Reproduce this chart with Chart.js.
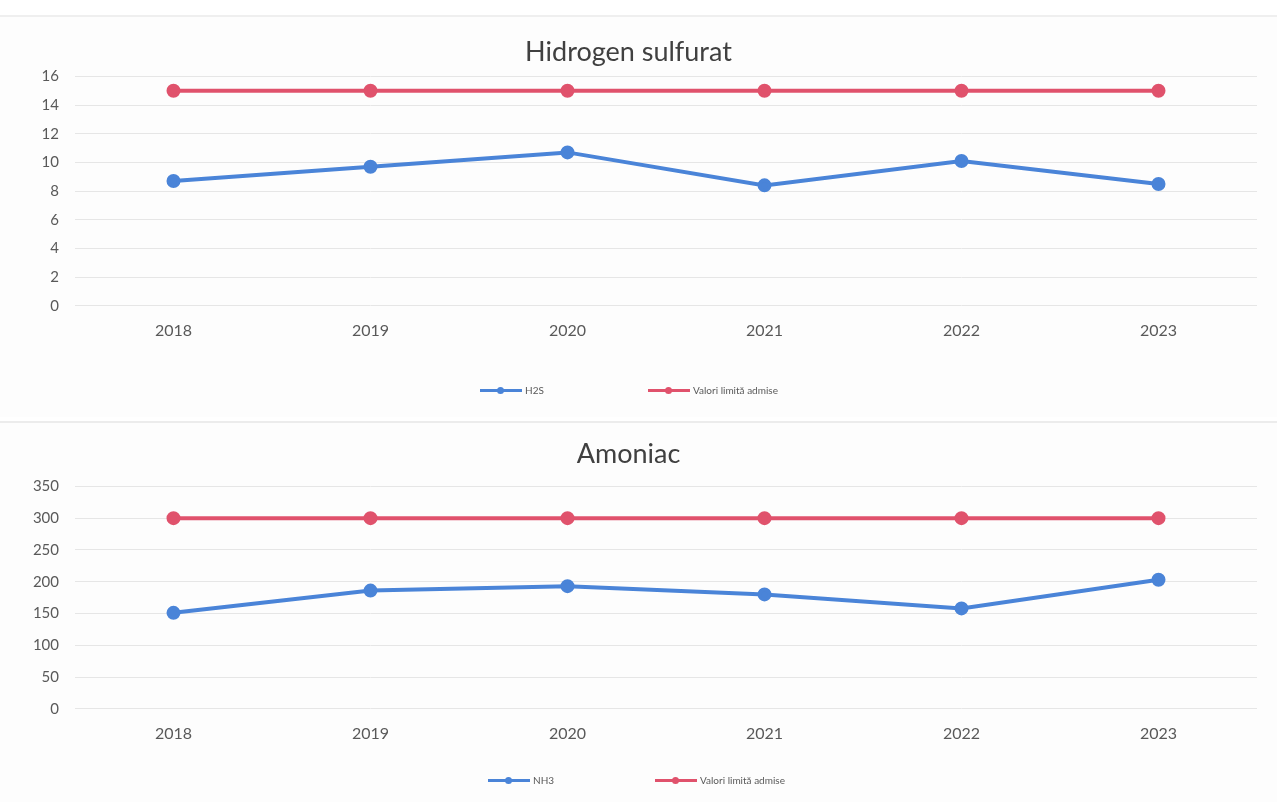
<!DOCTYPE html>
<html>
<head>
<meta charset="utf-8">
<script src="https://cdn.jsdelivr.net/npm/chart.js@4.4.0/dist/chart.umd.min.js"></script>
<style>
  body { margin: 0; background: #fff; width: 1277px; height: 803px; overflow: hidden; position: relative; font-family: Lato, "Open Sans", sans-serif; }
  .panel { position: absolute; left: 0; width: 1277px; background: #fdfdfd; }
  #p1 { top: 15px; height: 400px; border-top: 2px solid #efefef; }
  #p2 { top: 421px; height: 379px; border-top: 2px solid #ececec; }
  .legend { position: absolute; font-size: 10px; color: #595959; white-space: nowrap; }
  .item { position: absolute; top: 0; display: flex; align-items: center; height: 12px; }
  .swatch { position: relative; width: 42px; height: 3px; margin-right: 3px; }
  .swatch::after { content: ''; position: absolute; left: 17px; top: -2px; width: 7px; height: 7px; border-radius: 50%; background: inherit; }
</style>
</head>
<body>
<div class="panel" id="p1">
  <canvas id="c1" width="1277" height="400"></canvas>
  <div class="legend" id="l1" style="top: 367px; left: 0;"></div>
</div>
<div class="panel" id="p2">
  <canvas id="c2" width="1277" height="379"></canvas>
  <div class="legend" id="l2" style="top: 351px; left: 0;"></div>
</div>
<script>
const years = ['2018', '2019', '2020', '2021', '2022', '2023'];
const h2s = [8.7, 9.7, 10.7, 8.4, 10.1, 8.5];
const h2sLimit = [15, 15, 15, 15, 15, 15];
const nh3 = [151, 186, 193, 180, 158, 203];
const nh3Limit = [300, 300, 300, 300, 300, 300];

const BLUE = '#4a84d8';
const RED = '#e0526c';
const FONT = 'Lato, "Open Sans", sans-serif';

function series(label, data, color) {
  return {
    label: label,
    data: data,
    borderColor: color,
    backgroundColor: color,
    borderWidth: 4,
    pointRadius: 5,
    pointHoverRadius: 5,
    pointBackgroundColor: color,
    pointBorderColor: color,
    tension: 0
  };
}

function makeChart(id, title, datasets, yMax, yStep, pad) {
  return new Chart(document.getElementById(id), {
    type: 'line',
    data: { labels: years, datasets: datasets },
    options: {
      responsive: false,
      animation: false,
      layout: { padding: { left: 0, right: 20, top: pad.top, bottom: pad.bottom } },
      plugins: {
        title: {
          display: true,
          text: title,
          color: '#404040',
          font: { family: FONT, size: 27, weight: 'normal' },
          padding: { top: 0, bottom: pad.title }
        },
        legend: { display: false },
        tooltip: { enabled: false }
      },
      scales: {
        x: {
          offset: true,
          grid: { display: false },
          border: { display: false },
          ticks: { color: '#595959', font: { family: FONT, size: 16 }, padding: 7 }
        },
        y: {
          min: 0,
          max: yMax,
          afterFit: function (s) { s.width = 75; },
          grid: { color: '#e6e6e6', drawTicks: false },
          border: { display: false },
          ticks: { stepSize: yStep, autoSkip: false, color: '#595959', font: { family: FONT, size: 15 }, padding: 16 }
        }
      }
    }
  });
}

// legend built from the chart's own datasets
function drawLegend(chart, el, lefts) {
  chart.data.datasets.forEach(function (ds, i) {
    const item = document.createElement('div');
    item.className = 'item';
    item.style.left = lefts[i] + 'px';
    const sw = document.createElement('span');
    sw.className = 'swatch';
    sw.style.background = ds.borderColor;
    const tx = document.createElement('span');
    tx.textContent = ds.label;
    item.appendChild(sw);
    item.appendChild(tx);
    el.appendChild(item);
  });
}

const chart1 = makeChart('c1', 'Hidrogen sulfurat',
  [series('H2S', h2s, BLUE), series('Valori limită admise', h2sLimit, RED)],
  16, 2, { top: 19, bottom: 70, title: 8 });

const chart2 = makeChart('c2', 'Amoniac',
  [series('NH3', nh3, BLUE), series('Valori limită admise', nh3Limit, RED)],
  350, 50, { top: 15, bottom: 52, title: 16 });

drawLegend(chart1, document.getElementById('l1'), [480, 648]);
drawLegend(chart2, document.getElementById('l2'), [488, 655]);
</script>
</body>
</html>
